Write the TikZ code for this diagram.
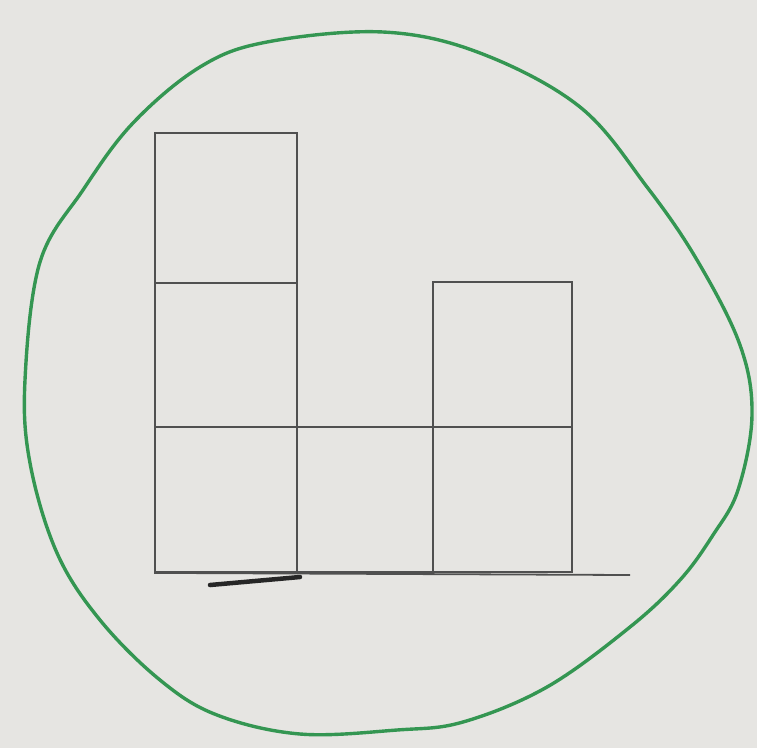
\documentclass[tikz,border=0pt]{standalone}
\usepackage{tikz}
\usetikzlibrary{positioning}
\definecolor{paper}{RGB}{230,229,226}
\definecolor{pen}{RGB}{80,80,80}
\definecolor{marker}{RGB}{52,150,82}

\begin{document}
\begin{tikzpicture}[x=1pt,y=-1pt,
  cell/.style={draw=pen,line width=1.8pt,inner sep=0pt,minimum width=#1},
  ring/.style={draw=marker,line width=3.4pt,line join=round}]
\fill[paper] (0,0) rectangle (757,748);
\useasboundingbox (0,0) rectangle (757,748);
% green loop around the blocks
\draw[ring] plot[smooth cycle,tension=0.6] coordinates {
  (383,32) (480,53) (580,107) (647,187) (697,260) (740,345) (752,415)
  (738,490) (713,535) (680,580) (630,627) (547,687) (463,722) (397,730)
  (300,734) (217,715) (160,680) (100,620) (57,553) (30,463) (25,380)
  (40,262) (83,190) (133,123) (200,67) (267,42)};
% left column
\node[cell=142pt,minimum height=150pt] (L1) at (226,208) {};
\node[cell=142pt,minimum height=144pt] (L2) at (226,355) {};
\node[cell=142pt,minimum height=145pt] (L3) at (226,499.5) {};
% middle and right columns
\node[cell=136pt,minimum height=145pt] (M3) at (365,499.5) {};
\node[cell=139pt,minimum height=145pt] (R2) at (502.5,354.5) {};
\node[cell=139pt,minimum height=145pt] (R3) at (502.5,499.5) {};
% ground line
\draw[pen,line width=1.8pt] (L3.south west) -- (630,575);
\draw[black!85,line width=4.5pt,line cap=round] (210,585) -- (300,577);
\end{tikzpicture}
\end{document}
